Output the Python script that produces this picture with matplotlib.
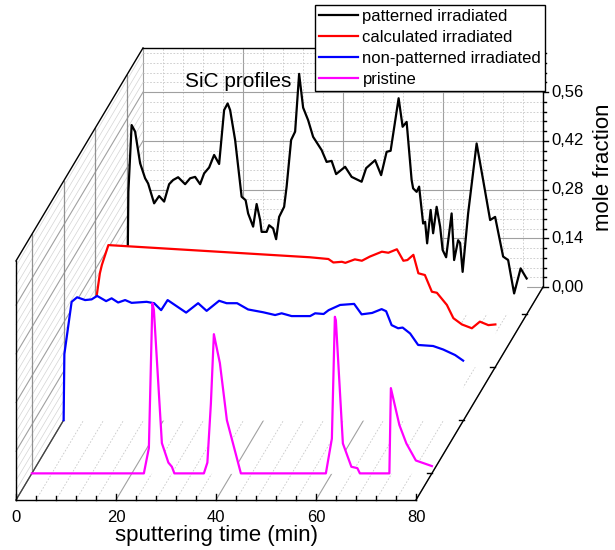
import numpy as np
import matplotlib.pyplot as plt

plt.rcParams['font.family'] = ['Liberation Sans', 'DejaVu Sans']

# SiC depth profiles: sputtering time (min) vs mole fraction, back to front
black_t = [0, 0.25, 0.9, 1.6, 2.6, 3.6, 4.2, 5.4, 6.4, 7.4, 8.4, 9.2, 10.2, 11.6, 12.6, 13.6,
           14.6, 15.4, 16.4, 17.4, 18.4, 19.4, 20.1, 20.6, 21.6, 22.9, 23.7, 24.2, 25.2, 25.9,
           26.6, 26.9, 27.9, 28.4, 29.2, 29.8, 30.4, 31.4, 31.9, 32.8, 33.6, 34.4, 35.2, 36.2,
           37.2, 38.9, 39.9, 40.9, 41.8, 43.6, 44.9, 46.9, 47.8, 49.6, 50.8, 51.9, 52.7, 54.3,
           55.1, 55.9, 56.9, 57.2, 57.9, 58.4, 59.2, 59.6, 60.0, 60.7, 61.2, 61.9, 62.6, 63.1,
           63.8, 64.9, 65.4, 66.2, 66.6, 67.1, 68.2, 69.9, 71.2, 72.6, 73.6, 75.2, 76.2, 77.4,
           78.7, 79.9]
black_z = [0, 0.35, 0.542, 0.523, 0.432, 0.389, 0.374, 0.317, 0.338, 0.322, 0.372, 0.384, 0.392,
           0.372, 0.389, 0.393, 0.372, 0.403, 0.42, 0.456, 0.43, 0.585, 0.604, 0.585, 0.499, 0.336,
           0.326, 0.288, 0.25, 0.315, 0.269, 0.235, 0.235, 0.254, 0.245, 0.214, 0.278, 0.307, 0.365,
           0.499, 0.523, 0.689, 0.592, 0.556, 0.508, 0.47, 0.436, 0.439, 0.401, 0.422, 0.393, 0.379,
           0.418, 0.441, 0.398, 0.465, 0.468, 0.619, 0.537, 0.551, 0.384, 0.36, 0.35, 0.365, 0.259,
           0.264, 0.202, 0.298, 0.231, 0.307, 0.25, 0.183, 0.162, 0.288, 0.154, 0.211, 0.203, 0.12,
           0.288, 0.489, 0.384, 0.269, 0.278, 0.164, 0.154, 0.058, 0.130, 0.101]

red_t = [0, 0.26, 0.9, 1.3, 2.6, 42.9, 46.6, 47.6, 49.3, 50.0, 51.9, 53.3, 54.9, 57.3, 58.6,
         60.3, 61.6, 62.4, 63.6, 64.6, 65.9, 67.3, 68.3, 70.3, 71.6, 73.3, 75.3, 76.9, 78.6, 80.0]
red_z = [0, 0.204, 0.269, 0.293, 0.35, 0.315, 0.31, 0.30, 0.302, 0.299, 0.309, 0.305, 0.317,
         0.331, 0.328, 0.338, 0.305, 0.307, 0.322, 0.269, 0.264, 0.216, 0.213, 0.178, 0.14,
         0.122, 0.111, 0.13, 0.12, 0.122]

blue_t = [0, 0.15, 1.6, 2.7, 4.3, 5.6, 6.7, 8.5, 9.6, 10.9, 12.3, 13.6, 16.6, 18.1, 19.5, 20.8,
          24.5, 26.9, 28.6, 31.1, 32.6, 34.7, 36.9, 39.9, 42.3, 43.6, 45.6, 49.3, 50.3, 52.0,
          53.0, 55.3, 58.1, 59.6, 61.7, 63.6, 64.5, 65.6, 66.9, 67.8, 69.3, 70.9, 73.9, 75.9,
          78.3, 79.9]
blue_z = [0, 0.19, 0.34, 0.353, 0.345, 0.347, 0.357, 0.342, 0.35, 0.338, 0.345, 0.337, 0.34,
          0.336, 0.316, 0.345, 0.309, 0.336, 0.314, 0.343, 0.336, 0.336, 0.318, 0.31, 0.302,
          0.307, 0.299, 0.299, 0.307, 0.305, 0.316, 0.331, 0.334, 0.304, 0.308, 0.319, 0.313,
          0.273, 0.264, 0.266, 0.249, 0.216, 0.213, 0.203, 0.187, 0.171]

pristine_t = [0, 22.4, 23.4, 24.1, 24.4, 26.0, 27.3, 28.0, 28.5, 34.4, 35.1, 35.8, 36.4, 37.6,
              39.0, 41.8, 58.8, 60.0, 60.6, 60.8, 62.2, 63.9, 65.1, 65.6, 71.5, 71.8, 73.5,
              74.9, 76.8, 80.0]
pristine_z = [0, 0, 0.073, 0.489, 0.47, 0.087, 0.031, 0.019, 0, 0, 0.031, 0.2, 0.40, 0.317,
              0.153, 0, 0, 0.1, 0.45, 0.44, 0.086, 0.019, 0.015, 0, 0, 0.245, 0.139, 0.086,
              0.037, 0.021]

names = ['patterned irradiated', 'calculated irradiated', 'non-patterned irradiated', 'pristine']
colors = ['black', '#ff0000', '#0000ff', '#ff00ff']
depths = [0.875, 0.625, 0.375, 0.125]
series_t = [black_t, red_t, blue_t, pristine_t]
series_z = [black_z, red_z, blue_z, pristine_z]

x_ticks = [0, 20, 40, 60, 80]
z_ticks = [0, 0.14, 0.28, 0.42, 0.56]
z_labels = ['0,00', '0,14', '0,28', '0,42', '0,56']

T_MAX = 80
Z_MAX = 0.687
DX, DY = 25.4, 0.612   # oblique shift of the full depth, in time and z units


def proj(t, d, z):
    t, d, z = np.broadcast_arrays(np.asarray(t, float), np.asarray(d, float), np.asarray(z, float))
    return t + d * DX, z + d * DY


fig = plt.figure(figsize=(6.15, 5.5), dpi=100)
ax = fig.add_axes([0, 0, 1, 1])
ax.set_xlim(-3.2, 119.8)
ax.set_ylim(-50 / 348, 500 / 348)
ax.axis('off')
PX = (119.8 + 3.2) / 615      # one pixel in x data units
PY = (550 / 348) / 550        # one pixel in y data units

major_grid = dict(color='#a0a0a0', lw=0.8, zorder=1)
minor_grid = dict(color='#c8c8c8', lw=0.6, ls=(0, (2, 2)), zorder=1)
hatch = dict(color='#d4d4d4', lw=0.5, zorder=1)
frame = dict(color='black', lw=1.0, zorder=10)

t_grid = np.arange(0, T_MAX + 1, 4)
z_grid = np.arange(0, Z_MAX, 0.028)

# back wall
for t in t_grid:
    ax.plot(*proj([t, t], 1, [0, Z_MAX]), **(major_grid if t % 20 == 0 else minor_grid))
for i, z in enumerate(z_grid):
    ax.plot(*proj([0, T_MAX], 1, [z, z]), **(major_grid if i % 5 == 0 else minor_grid))

# left wall
for i, z in enumerate(z_grid):
    ax.plot(*proj(0, [0, 1], [z, z]), **(major_grid if i % 5 == 0 else hatch))
for d in depths:
    ax.plot(*proj(0, d, [0, Z_MAX]), color='#909090', lw=0.9, zorder=1)

# floor
for t in t_grid:
    ax.plot(*proj([t, t], [0, 1], 0), **(major_grid if t % 20 == 0 else minor_grid))
ax.plot(*proj(0, [0, 1], 0), color='#404040', lw=0.9, zorder=1.5)

# curves, each filled white down to its own baseline
handles = []
for k, (t, z, d, c, name) in enumerate(zip(series_t, series_z, depths, colors, names)):
    X, Y = proj(t, d, z)
    ax.fill_between(X, d * DY, Y, color='white', lw=0, zorder=2 + k)
    line, = ax.plot(X, Y, color=c, lw=1.6, zorder=2.5 + k, label=name)
    handles.append(line)

# box edges
ax.plot(*proj([0, T_MAX], 0, 0), **frame)
ax.plot(*proj(0, 0, [0, Z_MAX]), **frame)
ax.plot(*proj(0, [0, 1], Z_MAX), **frame)
ax.plot(*proj([0, T_MAX], 1, Z_MAX), **frame)
ax.plot(*proj(T_MAX, 1, [0, Z_MAX]), **frame)
ax.plot(*proj(T_MAX, [0, 1], 0), **frame)

# time axis ticks and labels
for t in t_grid:
    X, Y = proj(t, 0, 0)
    L = 6 if t % 20 == 0 else 4
    ax.plot([X, X], [Y, Y + L * PY], **frame)
for t in x_ticks:
    X, Y = proj(t, 0, 0)
    ax.text(X, Y - 17 * PY, str(t), ha='center', va='center', fontsize=12, zorder=11)
X, Y = proj(T_MAX / 2, 0, 0)
ax.text(X, Y - 36 * PY, 'sputtering time (min)', ha='center', va='center', fontsize=16, zorder=11)

# depth axis ticks
for d in depths:
    X, Y = proj(T_MAX, d, 0)
    ax.plot([X - 5 * PX, X], [Y, Y], **frame)

# mole fraction axis
for i, z in enumerate(z_grid):
    X, Y = proj(T_MAX, 1, z)
    L = 5 if i % 5 == 0 else 3
    ax.plot([X, X + L * PX], [Y, Y], **frame)
for z, lab in zip(z_ticks, z_labels):
    X, Y = proj(T_MAX, 1, z)
    ax.text(X + 8 * PX, Y, lab, ha='left', va='center', fontsize=12, zorder=11)
X, Y = proj(T_MAX, 1, 0.345)
ax.text(X + 60 * PX, Y, 'mole fraction', rotation=90, ha='center', va='center', fontsize=16, zorder=11)

X, Y = proj(19, 1, 0.59)
ax.text(X, Y, 'SiC profiles', ha='center', va='center', fontsize=15, zorder=11)

leg = ax.legend(handles=handles, loc='upper left', bbox_to_anchor=(315 / 615, 1 - 5 / 550),
                fontsize=12, frameon=True, fancybox=False, edgecolor='black', framealpha=1,
                borderpad=0.25, borderaxespad=0, handlelength=2.3, handletextpad=0.3,
                labelspacing=0.36)
leg.get_frame().set_linewidth(1.0)
leg.set_zorder(20)

fig.savefig('out.png', dpi=100)
